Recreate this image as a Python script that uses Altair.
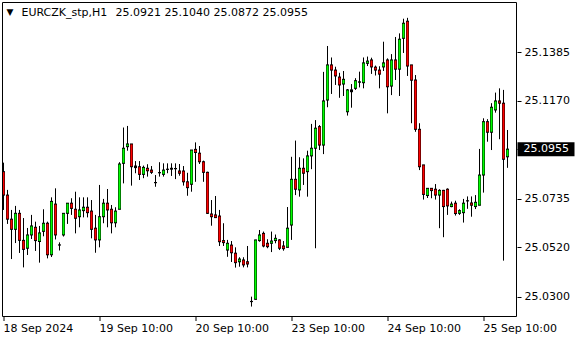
import altair as alt
import pandas as pd

symbol = "EURCZK_stp,H1"

opens = [25.0855, 25.0751, 25.0644, 25.0599, 25.0670, 25.0550, 25.0515, 25.0574, 25.0608, 25.0545,
         25.0590, 25.0626, 25.0486, 25.0711, 25.0530, 25.0574, 25.0670, 25.0715, 25.0688, 25.0655,
         25.0682, 25.0697, 25.0680, 25.0604, 25.0552, 25.0655, 25.0715, 25.0688, 25.0628, 25.0688,
         25.0892, 25.0966, 25.0978, 25.0880, 25.0877, 25.0843, 25.0870, 25.0862, 25.0807, 25.0851,
         25.0843, 25.0865, 25.0866, 25.0869, 25.0858, 25.0858, 25.0810, 25.0799, 25.0954, 25.0937,
         25.0899, 25.0852, 25.0667, 25.0663, 25.0658, 25.0549, 25.0507, 25.0529, 25.0493, 25.0455,
         25.0463, 25.0455, 25.0279, 25.0288, 25.0549, 25.0581, 25.0537, 25.0537, 25.0549, 25.0552,
         25.0525, 25.0519, 25.0618, 25.0821, 25.0774, 25.0870, 25.0855, 25.0925, 25.0959, 25.1055,
         25.0973, 25.1173, 25.1329, 25.1306, 25.1275, 25.1244, 25.1121, 25.1218, 25.1225, 25.1254,
         25.1250, 25.1336, 25.1351, 25.1319, 25.1306, 25.1320, 25.1351, 25.1235, 25.1351, 25.1310,
         25.1447, 25.1523, 25.1329, 25.1262, 25.1043, 25.0885, 25.0749, 25.0781, 25.0777, 25.0751,
         25.0772, 25.0777, 25.0700, 25.0715, 25.0670, 25.0673, 25.0725, 25.0716, 25.0700, 25.0706,
         25.0840, 25.1077, 25.1030, 25.1129, 25.1169, 25.1159, 25.0921]
highs = [25.0895, 25.0774, 25.0685, 25.0703, 25.0685, 25.0649, 25.0605, 25.0663, 25.0633, 25.0614,
         25.0688, 25.0633, 25.0741, 25.0781, 25.0541, 25.0670, 25.0715, 25.0737, 25.0766, 25.0741,
         25.0741, 25.0741, 25.0729, 25.0663, 25.0796, 25.0734, 25.0778, 25.0707, 25.0697, 25.0897,
         25.1051, 25.1058, 25.0978, 25.0902, 25.0902, 25.0882, 25.0888, 25.0880, 25.0840, 25.0897,
         25.0892, 25.0892, 25.0892, 25.0892, 25.0889, 25.0880, 25.0850, 25.0951, 25.0985, 25.0969,
         25.0904, 25.0855, 25.0729, 25.0747, 25.0685, 25.0626, 25.0552, 25.0547, 25.0519, 25.0475,
         25.0475, 25.0525, 25.0300, 25.0552, 25.0596, 25.0589, 25.0555, 25.0589, 25.0576, 25.0555,
         25.0547, 25.0698, 25.0921, 25.0993, 25.0919, 25.0914, 25.0948, 25.1067, 25.1084, 25.1062,
         25.1298, 25.1413, 25.1362, 25.1321, 25.1294, 25.1302, 25.1222, 25.1244, 25.1270, 25.1299,
         25.1362, 25.1366, 25.1361, 25.1326, 25.1323, 25.1432, 25.1358, 25.1377, 25.1453, 25.1469,
         25.1534, 25.1538, 25.1329, 25.1284, 25.1070, 25.0885, 25.0781, 25.0781, 25.0800, 25.0777,
         25.0774, 25.0781, 25.0722, 25.0726, 25.0688, 25.0734, 25.0745, 25.0745, 25.0751, 25.0956,
         25.1092, 25.1088, 25.1159, 25.1206, 25.1225, 25.1218, 25.1040]
lows = [25.0685, 25.0623, 25.0467, 25.0538, 25.0494, 25.0430, 25.0485, 25.0556, 25.0503, 25.0451,
        25.0568, 25.0470, 25.0476, 25.0554, 25.0505, 25.0567, 25.0623, 25.0663, 25.0581, 25.0608,
        25.0652, 25.0652, 25.0559, 25.0495, 25.0519, 25.0626, 25.0608, 25.0581, 25.0608, 25.0688,
        25.0803, 25.0948, 25.0793, 25.0848, 25.0818, 25.0826, 25.0833, 25.0845, 25.0788, 25.0833,
        25.0833, 25.0848, 25.0836, 25.0822, 25.0837, 25.0793, 25.0748, 25.0766, 25.0810, 25.0889,
        25.0810, 25.0667, 25.0615, 25.0649, 25.0525, 25.0525, 25.0477, 25.0454, 25.0429, 25.0433,
        25.0430, 25.0430, 25.0256, 25.0288, 25.0544, 25.0519, 25.0515, 25.0498, 25.0537, 25.0507,
        25.0504, 25.0519, 25.0552, 25.0751, 25.0744, 25.0796, 25.0744, 25.0866, 25.0515, 25.0951,
        25.0933, 25.1141, 25.1200, 25.1240, 25.1183, 25.1191, 25.1104, 25.1139, 25.1218, 25.1229,
        25.1225, 25.1324, 25.1289, 25.1282, 25.1225, 25.1302, 25.1114, 25.1195, 25.1262, 25.1191,
        25.1382, 25.1280, 25.1070, 25.1032, 25.0862, 25.0731, 25.0738, 25.0737, 25.0731, 25.0604,
        25.0564, 25.0663, 25.0697, 25.0660, 25.0663, 25.0629, 25.0690, 25.0655, 25.0689, 25.0706,
        25.0762, 25.0988, 25.0951, 25.1117, 25.0999, 25.0460, 25.0872]
closes = [25.0751, 25.0644, 25.0599, 25.0670, 25.0550, 25.0510, 25.0574, 25.0614, 25.0549, 25.0583,
          25.0626, 25.0486, 25.0723, 25.0574, 25.0529, 25.0670, 25.0715, 25.0692, 25.0648, 25.0685,
          25.0697, 25.0673, 25.0599, 25.0552, 25.0655, 25.0715, 25.0685, 25.0628, 25.0680, 25.0889,
          25.0959, 25.0978, 25.0877, 25.0873, 25.0843, 25.0874, 25.0859, 25.0852, 25.0806, 25.0850,
          25.0862, 25.0866, 25.0870, 25.0868, 25.0848, 25.0810, 25.0784, 25.0951, 25.0940, 25.0899,
          25.0852, 25.0670, 25.0655, 25.0651, 25.0544, 25.0540, 25.0537, 25.0495, 25.0451, 25.0467,
          25.0441, 25.0445, 25.0278, 25.0552, 25.0574, 25.0525, 25.0522, 25.0547, 25.0559, 25.0515,
          25.0513, 25.0604, 25.0821, 25.0777, 25.0870, 25.0848, 25.0925, 25.0959, 25.1048, 25.0973,
          25.1169, 25.1329, 25.1306, 25.1280, 25.1240, 25.1265, 25.1218, 25.1210, 25.1259, 25.1252,
          25.1338, 25.1346, 25.1320, 25.1306, 25.1288, 25.1338, 25.1232, 25.1351, 25.1310, 25.1443,
          25.1514, 25.1324, 25.1261, 25.1043, 25.0877, 25.0754, 25.0781, 25.0771, 25.0751, 25.0772,
          25.0700, 25.0703, 25.0711, 25.0669, 25.0682, 25.0715, 25.0726, 25.0706, 25.0719, 25.0840,
          25.1077, 25.1030, 25.1141, 25.1169, 25.1159, 25.0910, 25.0955]

tick_bars = [0, 24, 48, 72, 96, 120]
tick_labels = ["18 Sep 2024", "19 Sep 10:00", "20 Sep 10:00", "23 Sep 10:00", "24 Sep 10:00", "25 Sep 10:00"]
price_ticks = [25.0300, 25.0520, 25.0735, 25.0955, 25.1170, 25.1385]

BULL = "#00ff00"
BEAR = "#ff0000"

n = len(opens)
df = pd.DataFrame({
    "i": list(range(n)),
    "open": opens, "high": highs, "low": lows, "close": closes,
})
df["body_lo"] = df[["open", "close"]].min(axis=1)
df["body_hi"] = df[["open", "close"]].max(axis=1)
df["outer_l"] = df["i"] - 0.375
df["outer_r"] = df["i"] + 0.375

W, H = 515, 315
FONT = "DejaVu Sans"
Y0, Y1 = 25.02097, 25.16083
PX = (Y1 - Y0) / H  # price per pixel

# coloured centre of each body, inset by one pixel of border
fill_df = df[(df["body_hi"] - df["body_lo"]) > 2 * PX].copy()
fill_df["in_lo"] = fill_df["body_lo"] + 0.5 * PX
fill_df["in_hi"] = fill_df["body_hi"] - 0.5 * PX
up_df = fill_df[fill_df["close"] > fill_df["open"]]
dn_df = fill_df[fill_df["close"] < fill_df["open"]]

xscale = alt.Scale(domain=[-0.375, 128.375], nice=False, zero=False)
yscale = alt.Scale(domain=[Y0, Y1], nice=False, zero=False)

label_expr = " : ".join(f"datum.value == {b} ? '{t}'" for b, t in zip(tick_bars, tick_labels)) + " : ''"

x_axis = alt.Axis(values=tick_bars, labelExpr=label_expr, title=None, grid=False, domain=False,
                  ticks=True, tickSize=4, tickColor="black", labelAlign="left", labelPadding=2,
                  labelFont=FONT, labelFontSize=11, labelColor="black", labelOverlap=False,
                  labelFlush=False, translate=0)
y_axis = alt.Axis(values=price_ticks, format=".4f", orient="right", title=None, grid=False,
                  domain=False, ticks=True, tickSize=4, tickColor="black", labelPadding=3,
                  labelFont=FONT, labelFontSize=11, labelColor="black", labelOverlap=False,
                  labelFlush=False)

wicks = alt.Chart(df).mark_rule(color="black", strokeWidth=1).encode(
    x=alt.X("i:Q", scale=xscale, axis=x_axis),
    y=alt.Y("low:Q", scale=yscale, axis=y_axis),
    y2="high:Q",
)

outer = alt.Chart(df).mark_rect(color="black", opacity=1, yOffset=0.5, y2Offset=-0.5).encode(
    x=alt.X("outer_l:Q", scale=xscale),
    x2="outer_r:Q",
    y=alt.Y("body_lo:Q", scale=yscale),
    y2="body_hi:Q",
)

up_fill = alt.Chart(up_df).mark_rule(color=BULL, strokeWidth=2, opacity=1, strokeCap="butt").encode(
    x=alt.X("i:Q", scale=xscale),
    y=alt.Y("in_lo:Q", scale=yscale),
    y2="in_hi:Q",
)
dn_fill = alt.Chart(dn_df).mark_rule(color=BEAR, strokeWidth=2, opacity=1, strokeCap="butt").encode(
    x=alt.X("i:Q", scale=xscale),
    y=alt.Y("in_lo:Q", scale=yscale),
    y2="in_hi:Q",
)

frame = alt.Chart(pd.DataFrame({"f": [0]})).mark_rect(fill=None, stroke="black", strokeWidth=1,
                                                      clip=False).encode(
    x=alt.value(0.5), x2=alt.value(W - 0.5), y=alt.value(0.5), y2=alt.value(H - 0.5))

last = df.tail(1).copy()
last["label"] = [f"{closes[-1]:.4f}"]

price_box = alt.Chart(last).mark_tick(color="black", thickness=14, size=57, opacity=1,
                                      orient="horizontal", clip=False).encode(
    y=alt.Y("close:Q", scale=yscale),
    x=alt.value(544),
)
price_text = alt.Chart(last).mark_text(color="white", align="left", baseline="middle",
                                       font=FONT, fontSize=11, clip=False).encode(
    y=alt.Y("close:Q", scale=yscale),
    x=alt.value(521.5),
    text="label:N",
)

head = pd.DataFrame({
    "tri": ["\u25bc"],
    "name": [symbol],
    "ohlc": [f"{opens[-1]:.4f} {highs[-1]:.4f} {lows[-1]:.4f} {closes[-1]:.4f}"],
})
tri = alt.Chart(head).mark_text(align="left", baseline="middle", font=FONT, fontSize=9,
                                color="black").encode(
    x=alt.value(4.5), y=alt.value(10), text="tri:N")
name_text = alt.Chart(head).mark_text(align="left", baseline="middle", font=FONT, fontSize=11,
                                      color="black").encode(
    x=alt.value(19.5), y=alt.value(10.5), text="name:N")
ohlc_text = alt.Chart(head).mark_text(align="left", baseline="middle", font=FONT, fontSize=11,
                                      color="black").encode(
    x=alt.value(113.5), y=alt.value(10.5), text="ohlc:N")

chart = alt.layer(wicks, outer, up_fill, dn_fill, frame, price_box, price_text, tri,
                  name_text, ohlc_text).properties(
    width=W, height=H,
    padding={"left": 2, "top": 2, "right": 63, "bottom": 23},
    autosize=alt.AutoSizeParams(type="none"),
    background="white",
).configure_view(stroke=None)

chart.save("out.html", embed_options={"renderer": "svg", "actions": False})
